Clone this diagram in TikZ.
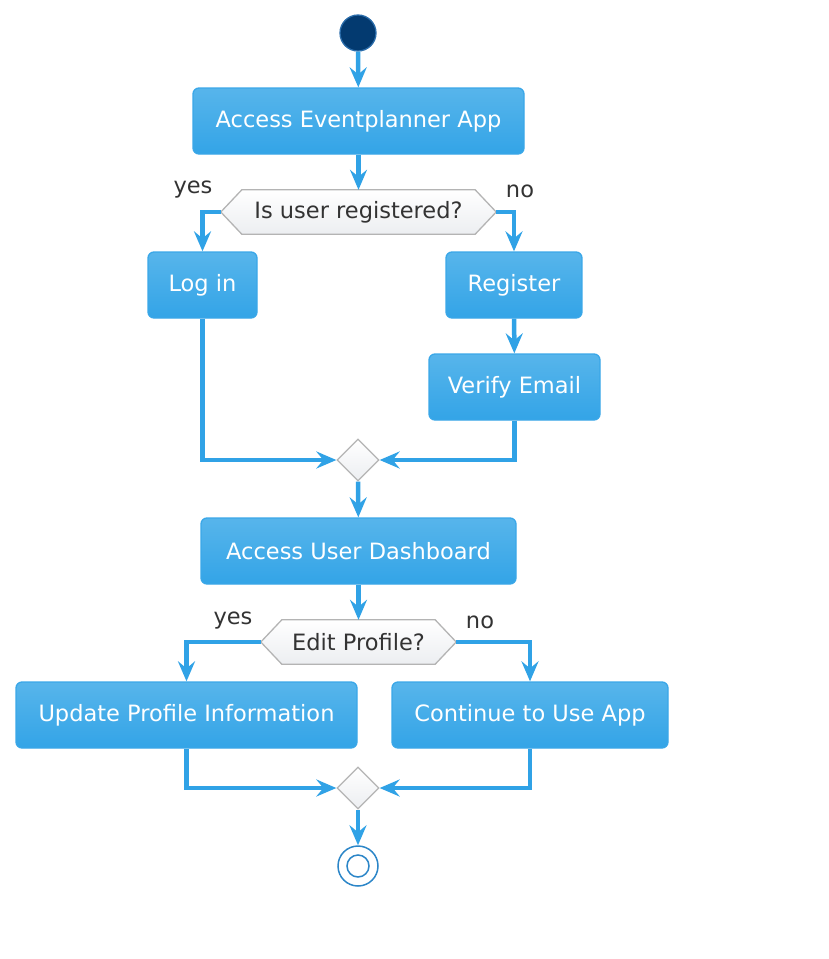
\documentclass[tikz,border=0pt]{standalone}
\usepackage{fontspec}
\setmainfont{DejaVu Sans}
\usetikzlibrary{shapes.geometric,arrows.meta,backgrounds}

\definecolor{boxtop}{HTML}{57B5EB}
\definecolor{boxbot}{HTML}{33A4E7}
\definecolor{boxline}{HTML}{3AA7E8}
\definecolor{flowcol}{HTML}{30A2E6}
\definecolor{decline}{HTML}{B4B4B4}
\definecolor{decbot}{HTML}{ECEEF1}
\definecolor{txtdark}{HTML}{333333}
\definecolor{startfill}{HTML}{033A70}
\definecolor{startline}{HTML}{2A6CAA}
\definecolor{stopline}{HTML}{2C86C8}

\newcommand{\txtsize}{\fontsize{22.5}{27}\selectfont}
% hexagon behind a decision node
\newcommand{\hexbox}[1]{%
  \begin{scope}[on background layer]
  \draw[hexa] (#1.west) -- ([xshift=21pt]#1.north west) -- ([xshift=-21pt]#1.north east)
    -- (#1.east) -- ([xshift=-21pt]#1.south east) -- ([xshift=21pt]#1.south west) -- cycle;
  \end{scope}}

\tikzset{
  act/.style={rectangle, rounded corners=6pt, draw=boxline, line width=1.3pt,
    top color=boxtop, bottom color=boxbot, text=white, minimum height=66pt,
    inner sep=0pt, font=\txtsize},
  decide/.style={rectangle, text=txtdark, minimum height=44pt,
    inner sep=0pt, font=\txtsize},
  hexa/.style={draw=decline, line width=1.3pt, top color=white, bottom color=decbot},
  merge/.style={diamond, draw=decline, line width=1.3pt, top color=white,
    bottom color=decbot, minimum size=42pt, inner sep=0pt},
  lbl/.style={text=txtdark, font=\txtsize},
  flow/.style={draw=flowcol, line width=4.5pt,
    -{Stealth[length=20pt,width=17pt,inset=7pt]}},
}

\begin{document}
\begin{tikzpicture}[x=1pt,y=-1pt]
%\draw[step=50,gray,very thin] (0,0) grid (829,959); %background grid
\useasboundingbox (0,0) rectangle (829,959);

\node[circle, fill=startfill, draw=startline, line width=1.3pt, minimum size=36pt, inner sep=0pt] (start) at (358,33) {};

\node[act, minimum width=331pt] (access) at (358.5,121) {Access Eventplanner App};
\node[decide, minimum width=275pt] (registered) at (358.5,212) {Is user registered?};
\hexbox{registered}
\node[lbl] (yes1) at (193,190) {yes};
\node[lbl] (no1) at (520,191) {no};

\node[act, minimum width=109pt] (login) at (202.5,285) {Log in};
\node[act, minimum width=136pt] (register) at (514,285) {Register};
\node[act, minimum width=171pt] (verify) at (514.5,387) {Verify Email};

\node[merge] (merge1) at (358,460) {};

\node[act, minimum width=315pt] (dashboard) at (358.5,551) {Access User Dashboard};
\node[decide, minimum width=195pt] (edit) at (358.5,642) {Edit Profile?};
\hexbox{edit}
\node[lbl] (yes2) at (233,621) {yes};
\node[lbl] (no2) at (480,622) {no};

\node[act, minimum width=341pt] (update) at (186.5,715) {Update Profile Information};
\node[act, minimum width=276pt] (continue) at (530,715) {Continue to Use App};

\node[merge] (merge2) at (358,788) {};

\node[circle, draw=stopline, fill=white, line width=1.5pt, minimum size=40pt, inner sep=0pt] (stop) at (358,866) {};
\node[circle, draw=stopline, line width=1.5pt, minimum size=22pt, inner sep=0pt] (stopin) at (stop.center) {};

\draw[flow] (start) -- (access);
\draw[flow] (access) -- (registered);
\draw[flow] (registered.west) -| (login.north);
\draw[flow] (registered.east) -| (register.north);
\draw[flow] (register) -- (verify);
\draw[flow] (login.south) |- (merge1.west);
\draw[flow] (verify.south) |- (merge1.east);
\draw[flow] (merge1) -- (dashboard);
\draw[flow] (dashboard) -- (edit);
\draw[flow] (edit.west) -| (update.north);
\draw[flow] (edit.east) -| (continue.north);
\draw[flow] (update.south) |- (merge2.west);
\draw[flow] (continue.south) |- (merge2.east);
\draw[flow] (merge2) -- (stop);

\end{tikzpicture}
\end{document}
